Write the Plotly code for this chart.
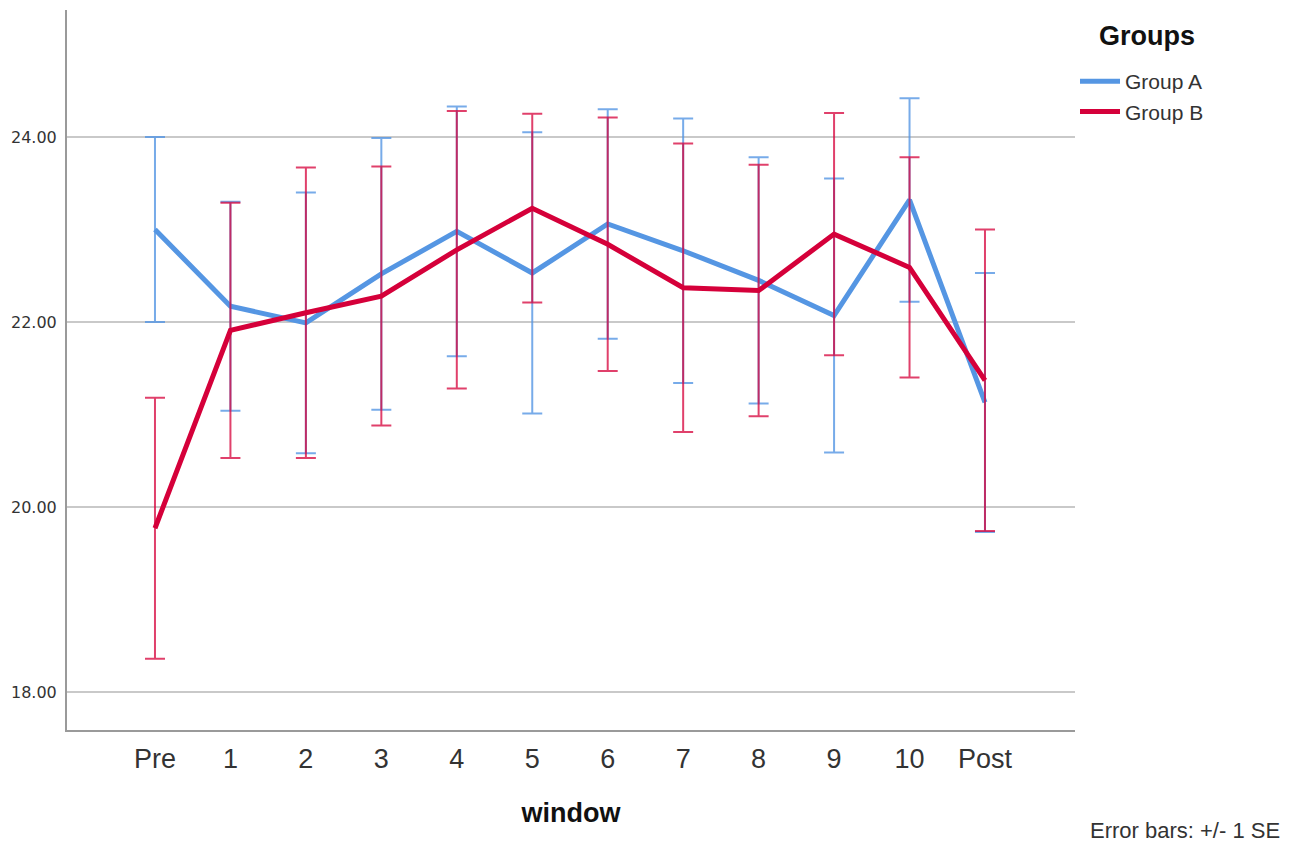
import plotly.graph_objects as go

# Window labels along the x axis
windows = ["Pre", "1", "2", "3", "4", "5", "6", "7", "8", "9", "10", "Post"]

# Group means and standard errors per window
group_a_mean = [23.00, 22.17, 21.99, 22.52, 22.98, 22.53, 23.06, 22.77, 22.45, 22.07, 23.32, 21.13]
group_a_se = [1.00, 1.13, 1.41, 1.47, 1.35, 1.52, 1.24, 1.43, 1.33, 1.48, 1.10, 1.40]

group_b_mean = [19.77, 21.91, 22.10, 22.28, 22.78, 23.23, 22.84, 22.37, 22.34, 22.95, 22.59, 21.37]
group_b_se = [1.41, 1.38, 1.57, 1.40, 1.50, 1.02, 1.37, 1.56, 1.36, 1.31, 1.19, 1.63]

y_ticks = [18, 20, 22, 24]

BLUE = "#5596e3"
RED = "#d5003a"

fig = go.Figure()

fig.add_trace(go.Scatter(
    x=windows, y=group_a_mean, name="Group A", mode="lines",
    line=dict(color=BLUE, width=5),
    error_y=dict(type="data", array=group_a_se, visible=True,
                 color="rgba(85,150,227,0.8)", thickness=2, width=10),
))
fig.add_trace(go.Scatter(
    x=windows, y=group_b_mean, name="Group B", mode="lines",
    line=dict(color=RED, width=5),
    error_y=dict(type="data", array=group_b_se, visible=True,
                 color="rgba(213,0,58,0.75)", thickness=2, width=10),
))

fig.update_layout(
    width=1300, height=842,
    margin=dict(l=67, r=225, t=10, b=112),
    paper_bgcolor="white", plot_bgcolor="white",
    font=dict(family="Liberation Sans, Arial, sans-serif", color="#222"),
    showlegend=True,
    legend=dict(
        x=1.0, xanchor="left", y=1 - (61 - 10) / 720, yanchor="top",
        font=dict(size=21, color="#333"),
        itemwidth=40, tracegroupgap=0,
        bgcolor="rgba(0,0,0,0)",
    ),
    xaxis=dict(
        type="category", range=[-1.166, 12.193],
        showgrid=False, zeroline=False,
        showline=True, linecolor="#9a9a9a", linewidth=2,
        ticks="", ticklabelstandoff=4,
        tickfont=dict(size=27, color="#333"),
        title=dict(text="<b>window</b>", font=dict(size=27, color="#111"), standoff=30),
    ),
    yaxis=dict(
        range=[17.589, 25.373],
        tickvals=y_ticks, tickformat=".2f",
        showgrid=True, gridcolor="#c9c9c9", gridwidth=2,
        zeroline=False,
        showline=True, linecolor="#9a9a9a", linewidth=2,
        ticks="", ticklabelstandoff=5,
        tickfont=dict(family="DejaVu Sans, Verdana, sans-serif", size=16, color="#333"),
    ),
)

# Legend heading
fig.add_annotation(
    text="<b>Groups</b>", xref="paper", yref="paper",
    x=1.0 + (1097 - 1075) / 1008, y=1 - (36 - 10) / 720,
    xanchor="left", yanchor="middle", showarrow=False,
    font=dict(size=27, color="#111"),
)

fig.add_annotation(
    text="Error bars: +/- 1 SE", xref="paper", yref="paper",
    x=1.0 + 207 / 1008, y=-(830 - 730) / 720, xanchor="right", yanchor="middle",
    showarrow=False, font=dict(size=22, color="#333"),
)

fig.write_html("out.html")
